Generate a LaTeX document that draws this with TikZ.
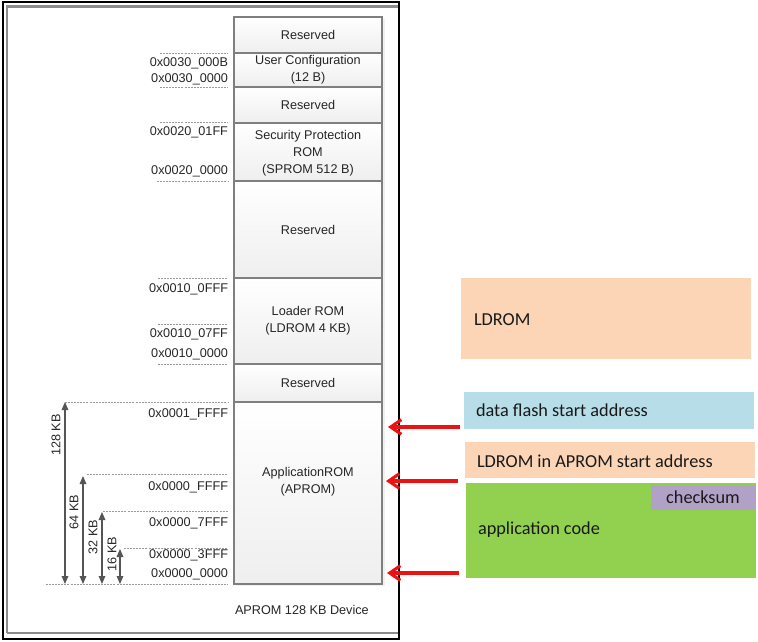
\documentclass[tikz,border=0pt]{standalone}
\usepackage{fontspec}
\setmainfont{Liberation Sans}
\newfontfamily\calfont{Carlito}
\usetikzlibrary{arrows.meta,fit}
\definecolor{peach}{HTML}{FBD5B5}
\definecolor{skyblue}{HTML}{B7DDE8}
\definecolor{leaf}{HTML}{92D050}
\definecolor{lilac}{HTML}{B2A1C7}
\definecolor{cellline}{HTML}{7F7F7F}
\definecolor{guide}{HTML}{9A9A9A}
\definecolor{dimline}{HTML}{555555}
\definecolor{pointer}{HTML}{EE1111}
\definecolor{framegray}{HTML}{8C8C8C}

\begin{document}
\begin{tikzpicture}[x=0.75pt,y=-0.75pt,
  every node/.style={inner sep=0pt,outer sep=0pt},
  memtext/.style={font=\fontsize{9.5}{12.6}\selectfont,align=center,text=black!85},
  cell/.style={draw=cellline,line width=0.8pt,top color=white,bottom color=gray!13},
  addr/.style={memtext,anchor=east,text depth=0pt,text height=6.9pt},
  guideline/.style={guide,line width=0.6pt,dash pattern=on 1.5pt off 0.8pt},
  sizearrow/.style={dimline,line width=0.8pt,{Triangle[length=6pt,width=5pt]}-{Triangle[length=6pt,width=5pt]}},
  sizelabel/.style={memtext,rotate=90},
  rbox/.style={draw=none},
  rtext/.style={font=\calfont\fontsize{13.7}{15}\selectfont,text=black!90},
  pointerarrow/.style={pointer,line width=2.3pt,-{Straight Barb[length=8pt,width=11pt]}}
]
\useasboundingbox (0,0) rectangle (758,642);

% outer frame of the memory map
\draw[framegray,line width=2pt] (7,633) -- (7,6.5) -- (398,6.5);
\draw[framegray,line width=2pt] (7,633) -- (398,633);
\draw[black,line width=1pt] (3,2) rectangle (399,639);

% soft shadow behind the memory column
\fill[gray!12] (236,19) rectangle (385,586);

% memory column
\node[cell,fit={(234,17) (382,53)},label={[memtext]center:Reserved}] (res1) {};
\node[cell,fit={(234,53) (382,87)},label={[memtext]center:User Configuration\\(12 B)}] (ucfg) {};
\node[cell,fit={(234,87) (382,123)},label={[memtext]center:Reserved}] (res2) {};
\node[cell,fit={(234,123) (382,181)},label={[memtext,yshift=-1pt]center:Security Protection\\ROM\\(SPROM 512 B)}] (sprom) {};
\node[cell,fit={(234,181) (382,278)},label={[memtext]center:Reserved}] (res3) {};
\node[cell,fit={(234,278) (382,364)},label={[memtext]center:Loader ROM\\(LDROM 4 KB)}] (ldr) {};
\node[cell,fit={(234,364) (382,402)},label={[memtext]center:Reserved}] (res4) {};
\node[cell,fit={(234,402) (382,584)}] (aprom) {};
\node[memtext] (apromtxt) at (308,482) {ApplicationROM\\(APROM)};

\node[memtext,anchor=west] (device) at (235,610) {APROM 128 KB Device};

% boundary guides
\draw[guideline] (160,53) -- (228,53);
\draw[guideline] (160,87) -- (228,87);
\draw[guideline] (160,122) -- (228,122);
\draw[guideline] (157,181) -- (228,181);
\draw[guideline] (158,278) -- (228,278);
\draw[guideline] (158,324) -- (228,324);
\draw[guideline] (158,364) -- (228,364);
\draw[guideline] (65,402) -- (228,402);
\draw[guideline] (87,474) -- (228,474);
\draw[guideline] (103,511) -- (228,511);
\draw[guideline] (124,548) -- (228,548);
\draw[guideline] (46,584) -- (228,584);

% addresses
\node[addr] (a1) at (228,62) {0x0030\_000B};
\node[addr] (a2) at (228,78) {0x0030\_0000};
\node[addr] (a3) at (228,131) {0x0020\_01FF};
\node[addr] (a4) at (228,170) {0x0020\_0000};
\node[addr] (a5) at (228,288) {0x0010\_0FFF};
\node[addr] (a6) at (228,333) {0x0010\_07FF};
\node[addr] (a7) at (228,353) {0x0010\_0000};
\node[addr] (a8) at (228,413) {0x0001\_FFFF};
\node[addr] (a9) at (228,486) {0x0000\_FFFF};
\node[addr] (a10) at (228,522) {0x0000\_7FFF};
\node[addr] (a11) at (228,554) {0x0000\_3FFF};
\node[addr] (a12) at (228,573) {0x0000\_0000};

% size spans
\coordinate (s128t) at (65,402);  \coordinate (s128b) at (65,584);
\coordinate (s64t) at (83,476);   \coordinate (s64b) at (83,584);
\coordinate (s32t) at (102,512);  \coordinate (s32b) at (102,584);
\coordinate (s16t) at (120,549);  \coordinate (s16b) at (120,584);
\draw[sizearrow] (s128t) -- (s128b);
\draw[sizearrow] (s64t) -- (s64b);
\draw[sizearrow] (s32t) -- (s32b);
\draw[sizearrow] (s16t) -- (s16b);
\node[sizelabel] (l128) at (56,435) {128 KB};
\node[sizelabel] (l64) at (74,512) {64 KB};
\node[sizelabel] (l32) at (93,537) {32 KB};
\node[sizelabel] (l16) at (112,554) {16 KB};

% flash layout blocks
\node[rbox,fill=peach,fit={(461,278) (751,359)}] (ldrombox) {};
\node[rtext,anchor=west] (ldromtxt) at (474,320) {LDROM};
\node[rbox,fill=skyblue,fit={(464,392) (754,429)}] (dfbox) {};
\node[rtext,anchor=west] (dftxt) at (476,410) {data flash start address};
\node[rbox,fill=peach,fit={(465,442) (755,478)}] (ldapbox) {};
\node[rtext,anchor=west] (ldaptxt) at (477,461) {LDROM in APROM start address};
\node[rbox,fill=leaf,fit={(466,483) (756,578)}] (appbox) {};
\node[rtext,anchor=west] (apptxt) at (478,530) {application code};
\node[rbox,fill=lilac,fit={(651,485) (756,510)}] (cksum) {};
\node[rtext] (cksumtxt) at (703,497) {checksum};

% start address pointers
\coordinate (p1s) at (460,427); \coordinate (p1e) at (388,427);
\coordinate (p2s) at (458,481); \coordinate (p2e) at (386,481);
\coordinate (p3s) at (459,573); \coordinate (p3e) at (387,573);
\draw[pointerarrow] (p1s) -- (p1e);
\draw[pointerarrow] (p2s) -- (p2e);
\draw[pointerarrow] (p3s) -- (p3e);
\end{tikzpicture}
\end{document}
